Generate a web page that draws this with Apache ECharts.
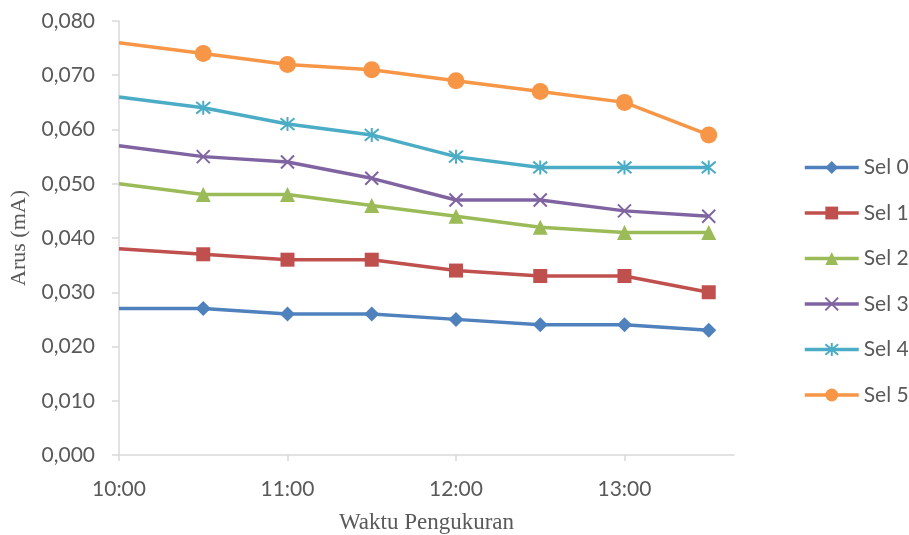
<!DOCTYPE html>
<html><head><meta charset="utf-8">
<script src="https://cdn.jsdelivr.net/npm/echarts@6/dist/echarts.min.js"></script>
<style>html,body{margin:0;padding:0;background:#fff}#c{width:909px;height:535px}</style>
</head><body><div id="c"></div>
<script>
var times = ["10:00","10:30","11:00","11:30","12:00","12:30","13:00","13:30"];
var sel0 = [0.027,0.027,0.026,0.026,0.025,0.024,0.024,0.023];
var sel1 = [0.038,0.037,0.036,0.036,0.034,0.033,0.033,0.030];
var sel2 = [0.050,0.048,0.048,0.046,0.044,0.042,0.041,0.041];
var sel3 = [0.057,0.055,0.054,0.051,0.047,0.047,0.045,0.044];
var sel4 = [0.066,0.064,0.061,0.059,0.055,0.053,0.053,0.053];
var sel5 = [0.076,0.074,0.072,0.071,0.069,0.067,0.065,0.059];
var names = ["Sel 0","Sel 1","Sel 2","Sel 3","Sel 4","Sel 5"];
var yTicks = ["0,000","0,010","0,020","0,030","0,040","0,050","0,060","0,070","0,080"];

function toMin(t){var p=t.split(":");return (+p[0]-10)*60+(+p[1]);}
function fmt(m){var h=10+Math.floor(m/60),mm=m%60;return h+":"+(mm<10?"0":"")+mm;}

var colors = ["#4F81BD","#C0504D","#9BBB59","#8064A2","#4BACC6","#F79646"];
var symbols = ["diamond","rect","triangle",
  "path://M0,0L10,10M10,0L0,10",
  "path://M0,0L10,10M10,0L0,10M5,-1L5,11",
  "circle"];
var sizes = [15,14,15,13,14,17];
var all = [sel0,sel1,sel2,sel3,sel4,sel5];

var series = all.map(function(vals,i){
  var stroke = (i===3||i===4);
  return {
    name: names[i], type:"line", symbol: symbols[i], symbolSize: sizes[i],
    showAllSymbol:true,
    lineStyle:{color:colors[i],width:3.5},
    itemStyle: stroke ? {color:colors[i],borderColor:colors[i],borderWidth:2} : {color:colors[i],borderWidth:0},
    emphasis:{disabled:true},
    data: vals.map(function(v,j){
      var d = {value:[toMin(times[j]),v]};
      if(j===0){ d.symbol='none'; }
      return d;
    })
  };
});

var chart = echarts.init(document.getElementById('c'),null,{renderer:'canvas'});
chart.setOption({
  animation:false,
  color: colors,
  grid:{left:119,top:21,width:615,height:434,containLabel:false,outerBoundsMode:'none'},
  legend:{
    orient:'vertical', left:803, top:157, padding:0, itemWidth:54, itemHeight:16, itemGap:24.5,
    lineStyle:{width:3.5},
    textStyle:{color:'#595959',fontSize:21,fontFamily:'Lato'},
    data:names
  },
  xAxis:{
    type:'value', min:0, max:219, interval:60,
    axisLine:{lineStyle:{color:'#d9d9d9',width:1.5}},
    axisTick:{show:true,length:6,lineStyle:{color:'#d9d9d9',width:1.5}},
    splitLine:{show:false},
    axisLabel:{color:'#595959',fontSize:21,fontFamily:'Lato',margin:24,formatter:function(v){return fmt(v);},showMaxLabel:false},
    name:'Waktu Pengukuran', nameLocation:'middle', nameGap:56,
    nameTextStyle:{color:'#595959',fontSize:23,fontFamily:'Liberation Serif'}
  },
  yAxis:{
    type:'value', min:0, max:0.08, interval:0.01,
    axisLine:{show:true,lineStyle:{color:'#d9d9d9',width:1.5}},
    axisTick:{show:true,length:7,lineStyle:{color:'#d9d9d9',width:1.5}},
    splitLine:{show:false},
    axisLabel:{color:'#595959',fontSize:21,fontFamily:'Lato',margin:24,
      formatter:function(v){return yTicks[Math.round(v*100)];}},
    name:'Arus (mA)', nameLocation:'middle', nameGap:82, nameRotate:90,
    nameTextStyle:{color:'#595959',fontSize:22,fontFamily:'Liberation Serif'}
  },
  series: series
});
</script></body></html>
